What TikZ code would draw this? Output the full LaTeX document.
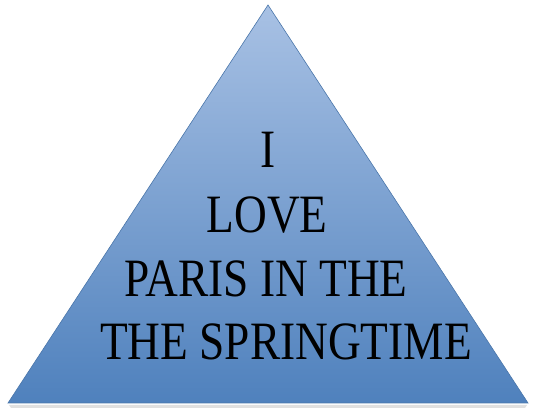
\documentclass[tikz,border=0pt]{standalone}
\usepackage{fontspec}
\usepackage{tikz}
\newfontfamily\pyramidfont[FakeStretch=0.84]{Liberation Serif}
\definecolor{pyrtop}{RGB}{168,193,228}
\definecolor{pyrbottom}{RGB}{79,129,189}
\definecolor{pyredge}{RGB}{74,118,170}

\begin{document}
\begin{tikzpicture}[x=1pt,y=1pt]
  \tikzset{pyrtext/.style={anchor=base, font=\pyramidfont\fontsize{54}{60}\selectfont, inner sep=0pt}}
  \useasboundingbox (0,0) rectangle (537,414);
  \coordinate (apex) at (268,409);
  \coordinate (left) at (8,11);
  \coordinate (right) at (528,11);
  % soft shadow under the base
  \fill[black, opacity=0.12] (9,9) -- (527,9) -- (525,6) -- (11,6) -- cycle;
  \shade[top color=pyrtop, bottom color=pyrbottom, draw=pyredge, line width=0.6pt]
    (apex) -- (left) -- (right) -- cycle;
  \node[pyrtext] (i)      at (268,246) {I};
  \node[pyrtext] (love)   at (267,181) {LOVE};
  \node[pyrtext] (paris)  at (266,117) {PARIS IN THE};
  \node[pyrtext] (spring) at (286,54)  {THE SPRINGTIME};
\end{tikzpicture}
\end{document}
